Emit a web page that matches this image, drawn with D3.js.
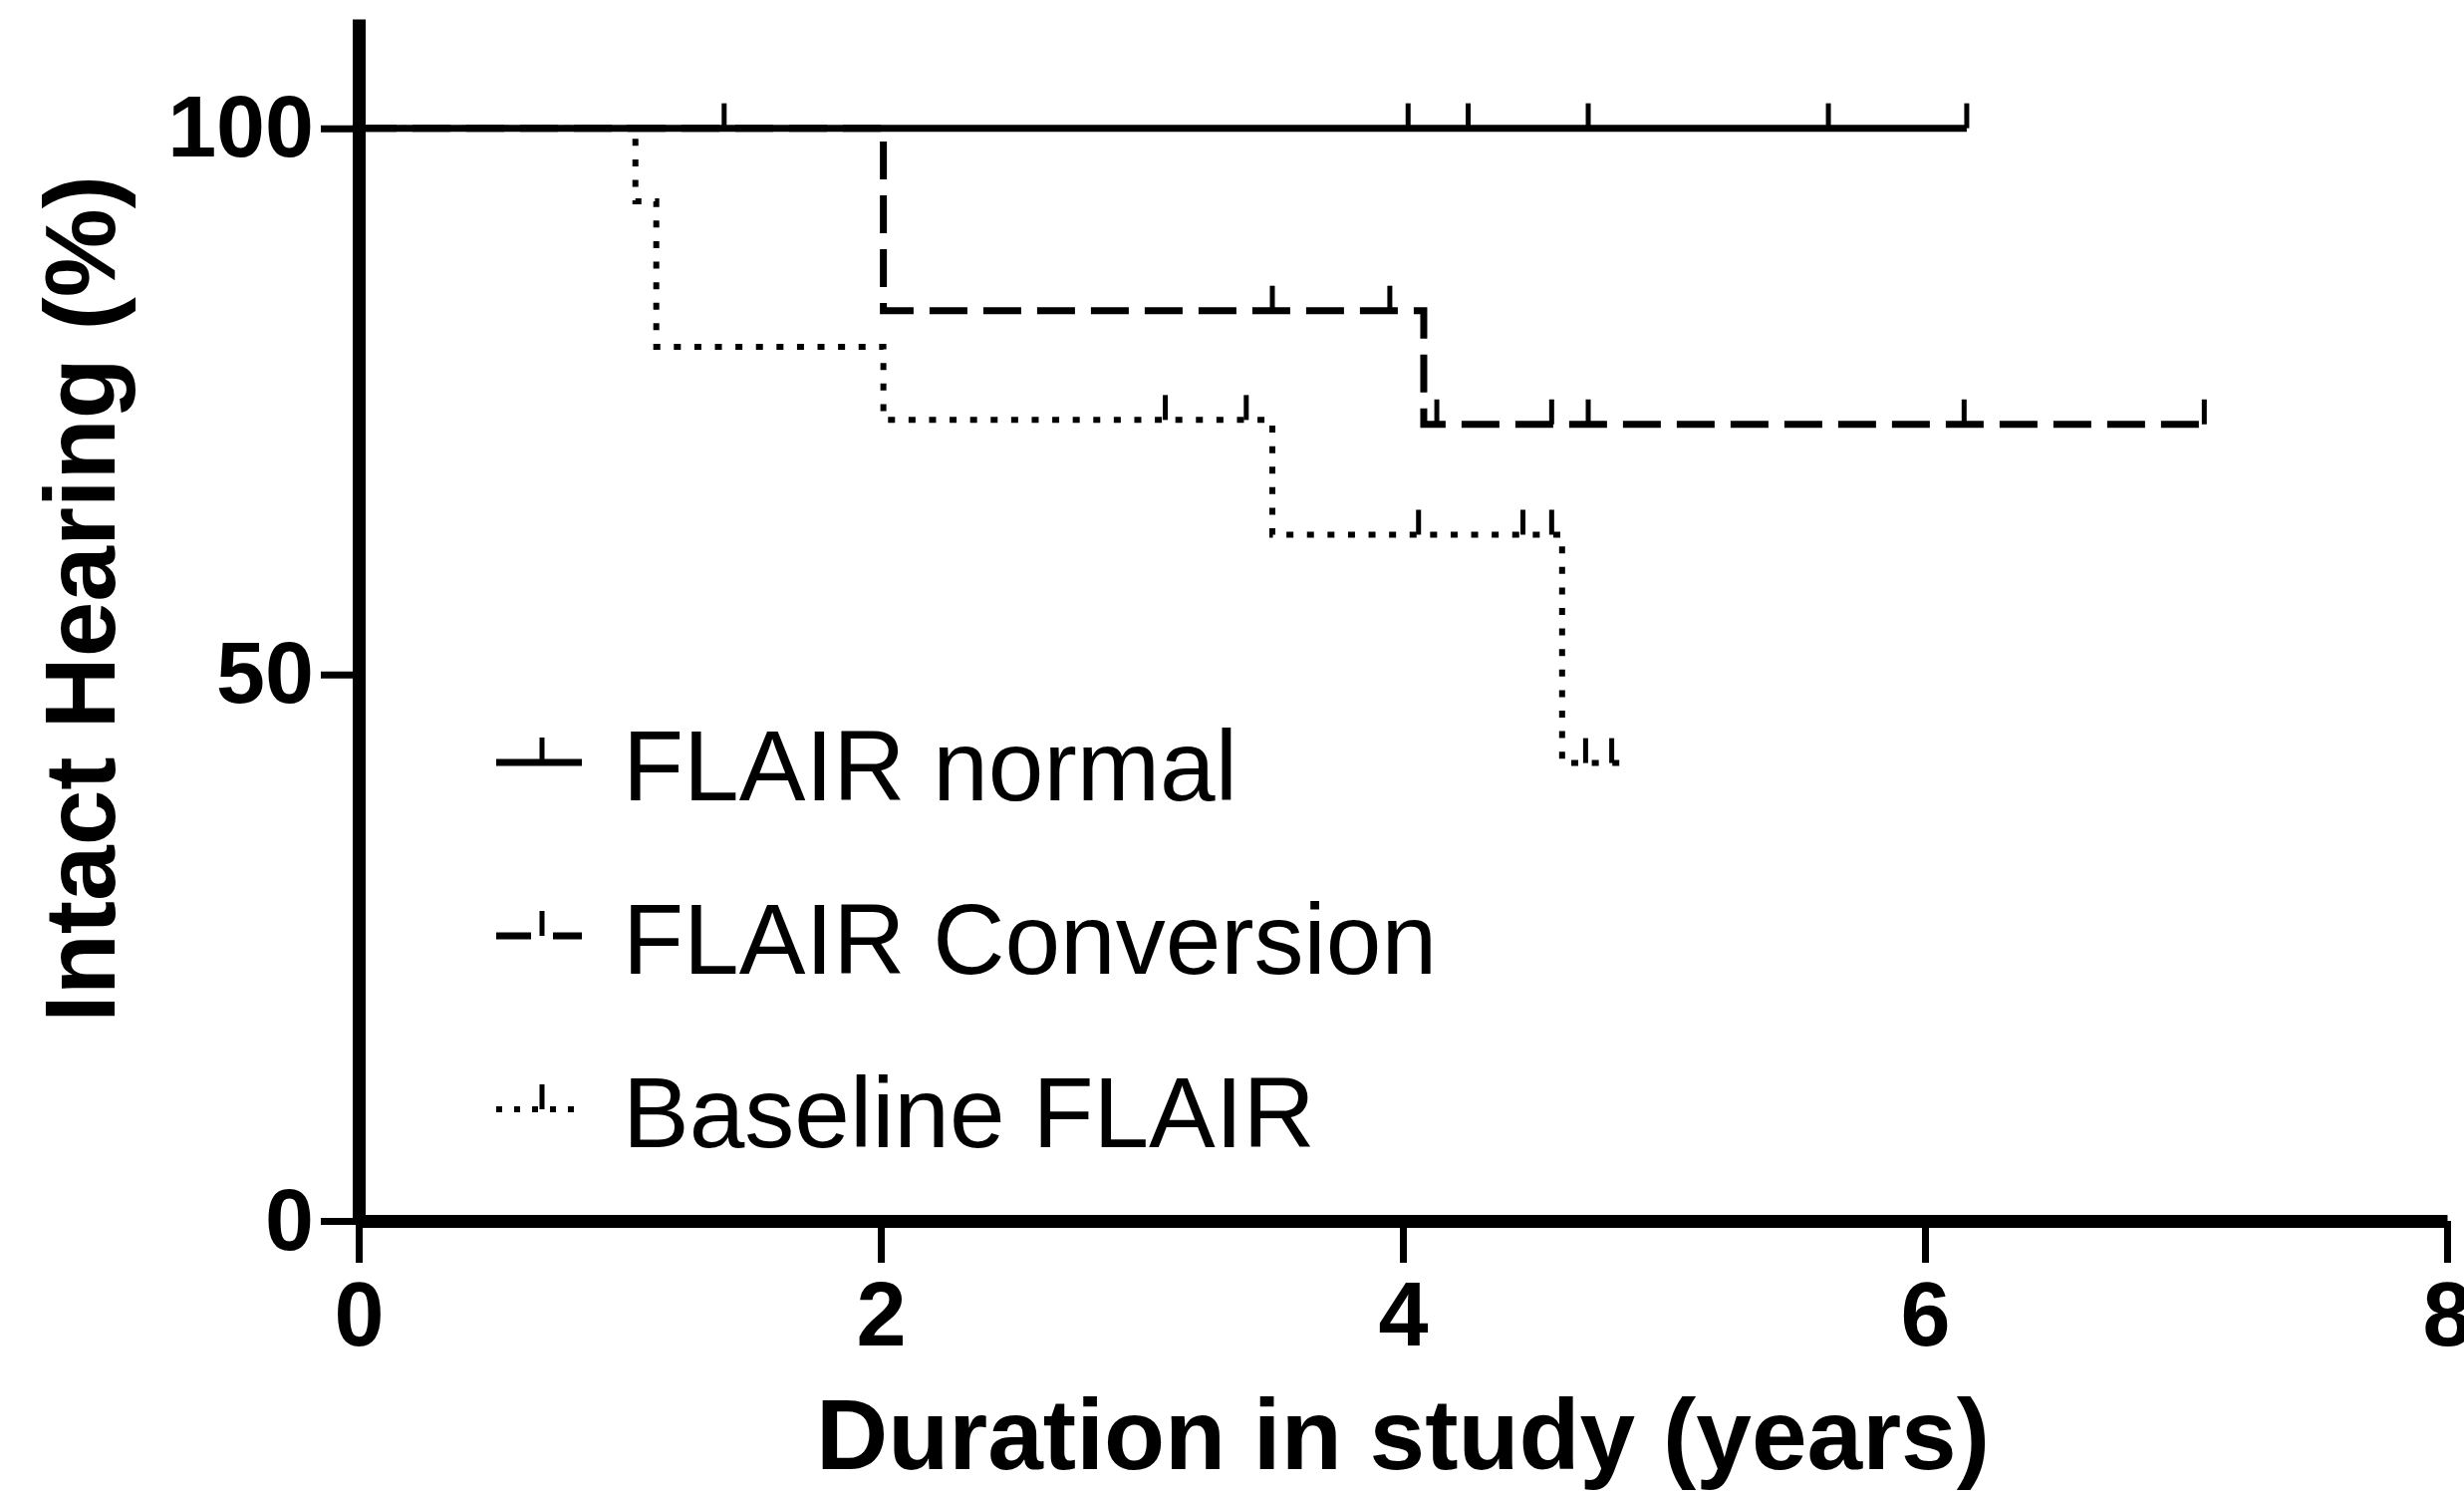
<!DOCTYPE html>
<html>
<head>
<meta charset="utf-8">
<script src="https://cdn.jsdelivr.net/npm/d3@7/dist/d3.min.js"></script>
<style>
  body { margin: 0; background: #fff; }
  svg { display: block; font-family: "Liberation Sans", Arial, sans-serif; }
</style>
</head>
<body>
<div id="chart"></div>
<script>
// axis ticks
const xTicks = [0, 2, 4, 6, 8];
const yTicks = [0, 50, 100];

// Kaplan-Meier steps (years, % intact) and censoring times
const seriesNames = ['FLAIR normal', 'FLAIR Conversion', 'Baseline FLAIR'];

const normalTimes = [0, 6.16];
const normalSurvival = [100, 100];
const normalCensored = [1.40, 4.02, 4.25, 4.71, 5.63, 6.16];

const conversionTimes = [0, 2.01, 4.08, 7.07];
const conversionSurvival = [100, 83.3, 72.9, 72.9];
const conversionCensored = [3.50, 3.95, 4.13, 4.57, 4.71, 6.15, 7.07];

const baselineTimes = [0, 1.06, 1.14, 2.01, 3.50, 4.61, 4.83];
const baselineSurvival = [100, 93.3, 80, 73.3, 62.8, 41.9, 41.9];
const baselineCensored = [3.09, 3.40, 4.06, 4.46, 4.57, 4.70, 4.80];

const width = 2473, height = 1497;

const svg = d3.select('#chart').append('svg')
  .attr('width', width)
  .attr('height', height);

const x = d3.scaleLinear().domain([0, 8]).range([360, 2456]);
const y = d3.scaleLinear().domain([0, 110]).range([1225, 19]);

// line styles per series
const dashes = [null, '38,16', '7,13.6'];
const widths = [7, 7, 6];

const series = [
  { times: normalTimes, surv: normalSurvival, cens: normalCensored },
  { times: conversionTimes, surv: conversionSurvival, cens: conversionCensored },
  { times: baselineTimes, surv: baselineSurvival, cens: baselineCensored }
];

const line = d3.line()
  .x(d => x(d[0]))
  .y(d => y(d[1]))
  .curve(d3.curveStepAfter);

function survivalAt(s, t) {
  const i = d3.bisectRight(s.times, t) - 1;
  return s.surv[Math.max(0, i)];
}

// draw back to front so the solid line sits on top
[2, 1, 0].forEach(k => {
  const s = series[k];
  const pts = s.times.map((t, i) => [t, s.surv[i]]);
  svg.append('path')
    .datum(pts)
    .attr('d', line)
    .attr('fill', 'none')
    .attr('stroke', '#000')
    .attr('stroke-width', widths[k])
    .attr('stroke-dasharray', dashes[k]);

  svg.append('g').selectAll('line')
    .data(s.cens)
    .join('line')
    .attr('x1', d => x(d))
    .attr('x2', d => x(d))
    .attr('y1', d => y(survivalAt(s, d)))
    .attr('y2', d => y(survivalAt(s, d)) - 25)
    .attr('stroke', '#000')
    .attr('stroke-width', 5);
});

// x axis
const gx = svg.append('g')
  .attr('transform', `translate(0, ${y(0)})`)
  .call(d3.axisBottom(x).tickValues(xTicks).tickSize(42).tickSizeOuter(0).tickPadding(19));
gx.select('.domain').attr('stroke-width', 13);
gx.selectAll('.tick line').attr('stroke-width', 7);
gx.selectAll('.tick text')
  .attr('font-size', 90)
  .attr('font-weight', 'bold')
  .attr('font-family', '"Liberation Sans", Arial, sans-serif')
  .attr('fill', '#000');

// y axis
const gy = svg.append('g')
  .attr('transform', `translate(${x(0)}, 0)`)
  .call(d3.axisLeft(y).tickValues(yTicks).tickSize(38).tickSizeOuter(0).tickPadding(7));
gy.select('.domain').attr('stroke-width', 13);
gy.selectAll('.tick line').attr('stroke-width', 7);
gy.selectAll('.tick text')
  .attr('font-size', 88)
  .attr('font-weight', 'bold')
  .attr('font-family', '"Liberation Sans", Arial, sans-serif')
  .attr('fill', '#000');

// axis titles
svg.append('text')
  .attr('x', (x(0) + x(8)) / 2)
  .attr('y', 1474)
  .attr('text-anchor', 'middle')
  .attr('font-size', 100)
  .attr('font-weight', 'bold')
  .text('Duration in study (years)');

svg.append('text')
  .attr('transform', 'translate(115, 601) rotate(-90)')
  .attr('text-anchor', 'middle')
  .attr('font-size', 100)
  .attr('font-weight', 'bold')
  .text('Intact Hearing (%)');

// legend
const legend = svg.append('g');
seriesNames.forEach((name, k) => {
  const ly = 765 + k * 174;
  legend.append('line')
    .attr('x1', 498).attr('x2', 584)
    .attr('y1', ly).attr('y2', ly)
    .attr('stroke', '#000')
    .attr('stroke-width', widths[k])
    .attr('stroke-dasharray', k === 1 ? '35,22' : (k === 2 ? '6,12' : null));
  legend.append('line')
    .attr('x1', 544).attr('x2', 544)
    .attr('y1', ly).attr('y2', ly - 25)
    .attr('stroke', '#000')
    .attr('stroke-width', 5);
  legend.append('text')
    .attr('x', 625)
    .attr('y', ly + 38)
    .attr('font-size', 100)
    .text(name);
});
</script>
</body>
</html>
